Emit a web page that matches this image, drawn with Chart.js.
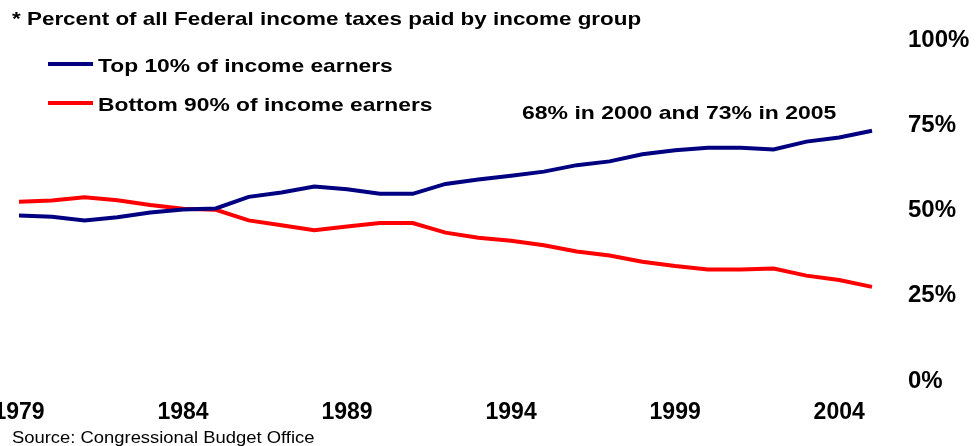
<!DOCTYPE html>
<html>
<head>
<meta charset="utf-8">
<script src="https://cdn.jsdelivr.net/npm/chart.js@4.4.1/dist/chart.umd.min.js"></script>
<style>
  html, body { margin: 0; padding: 0; background: #fff; }
  #wrap { width: 977px; height: 446px; }
</style>
</head>
<body>
<div id="wrap"><canvas id="taxChart" width="977" height="446"></canvas></div>
<script>
// Years on the x axis
const years = [1979, 1980, 1981, 1982, 1983, 1984, 1985, 1986, 1987, 1988, 1989, 1990, 1991,
  1992, 1993, 1994, 1995, 1996, 1997, 1998, 1999, 2000, 2001, 2002, 2003, 2004, 2005];

// Share of all federal income taxes (%)
const top10 = [48.5, 48.2, 47.1, 48.0, 49.4, 50.3, 50.6, 54.0, 55.3, 57.0, 56.2, 54.9, 54.9,
  57.8, 59.1, 60.2, 61.4, 63.3, 64.4, 66.5, 67.7, 68.4, 68.4, 67.9, 70.2, 71.4, 73.4];
const bottom90 = [52.6, 52.9, 53.9, 53.0, 51.6, 50.5, 50.2, 47.1, 45.7, 44.2, 45.3, 46.3, 46.3,
  43.5, 42.0, 41.1, 39.8, 38.0, 36.8, 35.0, 33.7, 32.7, 32.7, 33.0, 30.9, 29.6, 27.6];

// Labels shown on the axes
const yearTicks = [1979, 1984, 1989, 1994, 1999, 2004];
const percentTicks = [0, 25, 50, 75, 100];

const titleText = '* Percent of all Federal income taxes paid by income group';
const noteText = '68% in 2000 and 73% in 2005';
const sourceText = 'Source: Congressional Budget Office';

const boldFont = 'bold 19px "Liberation Sans", Arial, sans-serif';

// the original picture's text is a bit wider than normal Arial
function wideText(ctx, text, x, y, sx) {
  ctx.save();
  ctx.translate(x, y);
  ctx.scale(sx, 1);
  ctx.fillText(text, 0, 0);
  ctx.restore();
}

// Draws the title, legend, note and source as plain canvas text
const textPlugin = {
  id: 'chartText',
  afterDraw(chart) {
    const ctx = chart.ctx;
    ctx.save();
    ctx.fillStyle = '#000';
    ctx.textAlign = 'left';
    ctx.textBaseline = 'alphabetic';

    ctx.font = boldFont;
    wideText(ctx, titleText, 12, 25, 1.18);

    // legend rows
    const rows = [64, 103];
    chart.data.datasets.forEach((ds, i) => {
      ctx.strokeStyle = ds.borderColor;
      ctx.lineWidth = 4;
      ctx.beginPath();
      ctx.moveTo(48, rows[i]);
      ctx.lineTo(93, rows[i]);
      ctx.stroke();
      wideText(ctx, ds.label, 98, rows[i] + 8, 1.2);
    });

    wideText(ctx, noteText, 522, 119, 1.21);

    ctx.font = '16px "Liberation Sans", Arial, sans-serif';
    wideText(ctx, sourceText, 12, 443, 1.15);
    ctx.restore();
  }
};

const ctx = document.getElementById('taxChart').getContext('2d');

new Chart(ctx, {
  type: 'line',
  data: {
    labels: years.map(String),
    datasets: [{
      label: 'Top 10% of income earners',
      data: top10,
      borderColor: '#000080',
      borderWidth: 4,
      pointRadius: 0,
      tension: 0
    }, {
      label: 'Bottom 90% of income earners',
      data: bottom90,
      borderColor: '#ff0000',
      borderWidth: 4,
      pointRadius: 0,
      tension: 0
    }]
  },
  options: {
    responsive: false,
    animation: false,
    layout: { padding: { left: 19, right: 0, top: 40, bottom: 20 } },
    plugins: {
      legend: { display: false },
      tooltip: { enabled: false }
    },
    scales: {
      x: {
        grid: { display: false },
        border: { display: false },
        ticks: {
          autoSkip: false,
          maxRotation: 0,
          padding: 10,
          color: '#000',
          font: { family: '"Liberation Sans", Arial, sans-serif', size: 23, weight: 'bold' },
          callback(value, index) {
            const y = years[index];
            return yearTicks.includes(y) ? String(y) : '';
          }
        },
        afterFit(scale) {
          scale.paddingLeft = 0;
          scale.paddingRight = 0;
          scale.height = 45;
        }
      },
      y: {
        position: 'right',
        min: 0,
        max: 100,
        grid: { display: false, drawTicks: false },
        border: { display: false },
        afterBuildTicks(scale) {
          scale.ticks = percentTicks.map(v => ({ value: v }));
        },
        ticks: {
          padding: 36,
          color: '#000',
          font: { family: '"Liberation Sans", Arial, sans-serif', size: 24, weight: 'bold' },
          callback: v => v + '%'
        },
        afterFit(scale) {
          scale.width = 105;
          scale.paddingTop = 0;
          scale.paddingBottom = 0;
        }
      }
    }
  },
  plugins: [textPlugin]
});
</script>
</body>
</html>
